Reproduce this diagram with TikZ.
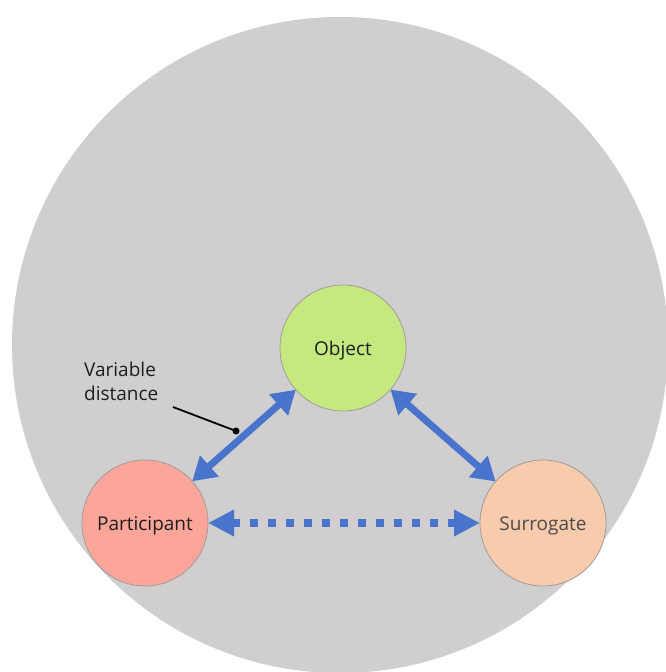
\documentclass[tikz,border=0pt]{standalone}
\usepackage{fontspec}
\setmainfont{Open Sans}
\usetikzlibrary{arrows.meta}
\definecolor{bggray}{HTML}{D0CECF}
\definecolor{objgreen}{HTML}{C5E97F}
\definecolor{partred}{HTML}{FCA69A}
\definecolor{surrpeach}{HTML}{F7CBAB}
\definecolor{linkblue}{HTML}{4874CC}
\definecolor{rimgray}{HTML}{A09C9C}
\definecolor{inkgray}{HTML}{1E1E1E}
\begin{document}
\begin{tikzpicture}[x=1pt,y=-1pt,
  ent/.style={circle, draw=rimgray, line width=0.8pt, minimum size=126pt,
    inner sep=0pt, outer sep=0pt, text height=19pt, text depth=4pt,
    text=inkgray, font=\fontsize{19}{22}\selectfont},
  link/.style={linkblue, line width=7pt,
    {Triangle[length=23pt,width=27pt]}-{Triangle[length=23pt,width=27pt]}},
  dotlink/.style={linkblue, line width=8pt, dash pattern=on 8pt off 10pt,
    {Triangle[length=26pt,width=25pt]}-{Triangle[length=26pt,width=25pt]}},
  note/.style={align=left, inner sep=0pt, anchor=north west, text=inkgray,
    font=\fontsize{19}{24}\selectfont}]
  \useasboundingbox (0,0) rectangle (666,672);
  \clip (0,0) rectangle (666,672);
  % shared field
  \fill[bggray] (340,345) circle[radius=328];
  % entities
  \node[ent, fill=objgreen] (O) at (343,348) {Object};
  \node[ent, fill=partred] (P) at (145,523) {Participant};
  \node[ent, fill=surrpeach, text=black!70] (S) at (543,523) {Surrogate};
  % links
  \draw[link] (P) -- (O);
  \draw[link] (O) -- (S);
  \draw[dotlink] (P) -- (S);
  % annotation
  \node[note] (lbl) at (84,362) {Variable\\distance};
  \coordinate (from) at (173,407);
  \coordinate (dot) at (236,431);
  \draw[black, line width=1.8pt] (from) -- (dot);
  \fill[black] (dot) circle[radius=3.5];
\end{tikzpicture}
\end{document}
